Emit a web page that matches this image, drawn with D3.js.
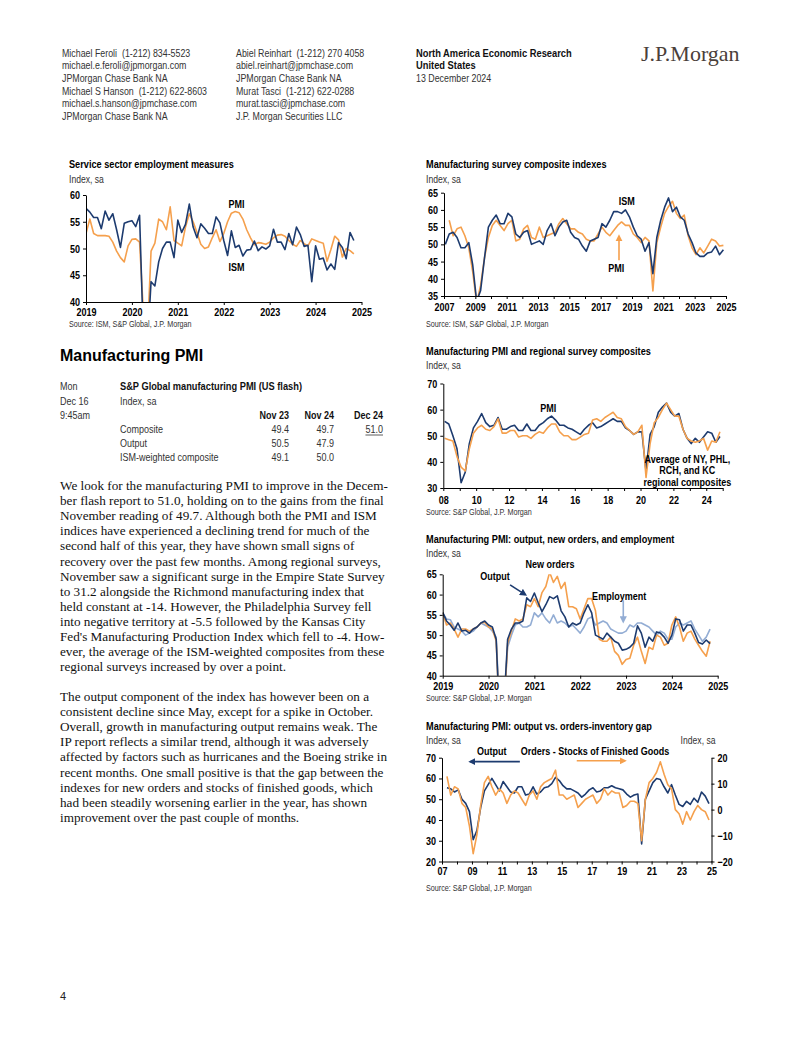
<!DOCTYPE html>
<html><head><meta charset="utf-8">
<script src="https://cdn.jsdelivr.net/npm/d3@7"></script>
<style>body{margin:0;background:#fff}svg{display:block}text{white-space:pre}</style>
</head><body><svg id="page" width="802" height="1037"></svg>
<script>
// ---------------- DATA ----------------
// Chart 1: Service sector employment measures (monthly, Jan 2019 - Nov 2024)
const svcStart = 2019;
const ismSvcEmp = [57.5,56.8,55.8,55.8,53.7,57.0,55.3,56.5,53.5,50.2,54.7,55.0,
 55.2,54.1,56.2,33.0,31.0,43.8,43.0,47.5,50.0,51.2,51.2,48.3,
 55.3,53.0,54.5,58.3,54.0,52.0,54.6,53.8,52.8,52.8,55.9,54.8,
 51.5,48.7,53.3,50.2,50.6,48.6,49.7,49.8,51.4,49.6,50.3,49.9,
 50.5,53.6,51.2,51.2,49.8,52.8,50.7,54.0,52.6,50.4,50.6,43.8,
 50.5,48.0,48.2,46.0,47.1,46.1,51.1,50.2,48.1,53.0,51.5];
const pmiSvcEmp = [52.8,55.5,52.8,52.4,52.4,52.4,52.3,51.2,49.5,48.3,47.5,50.5,
 51.7,51.8,51.2,38.0,33.0,49.5,51.0,55.5,55.0,53.5,57.8,51.5,
 51.0,50.5,54.0,56.5,55.0,53.0,50.8,50.0,50.3,52.0,53.5,51.3,
 52.8,55.0,56.6,56.9,56.7,55.5,53.5,52.0,50.7,51.1,51.0,50.8,
 51.2,52.0,52.5,52.6,52.3,51.5,50.8,50.4,51.5,50.9,50.5,51.8,
 51.5,51.2,51.0,47.6,49.8,52.3,51.6,48.4,50.0,49.6,49.0];

// Chart 2: Manufacturing survey composite indexes (quarterly readings)
const ismMfgStart = 2007 + 1/12;
const ismMfg = [50,53,53.5,52, 49,49,50.5,44, 33.5,36.5,46,55, 57,58.5,56,56,
 59,58,53,52, 53.5,54,50,50.5, 51,50,54,56, 52.5,55,56.5,57, 53.5,52,51.5,49.5,
 48,51,51.5,52, 56,55,57,59.5, 59.5,59,60,58, 55,52.5,51.5,48, 50.5,41.5,52,57,
 60.8,63.5,59.5,60.8, 58,57,53,50.5, 47.5,46.5,46.5,47.5, 47.8,49.5,47,48.4];
const pmiMfgStart = 2007 + 4/12;
const pmiMfg = [57,52.5,54.5, 55,52.5,49,42, 33,38,46,52, 55.5,57,55.5,54,
 56,57,51,51.5, 54.5,55.5,52,51.5, 55,52,52.5,53, 53.5,56,57.5,56, 54.5,54.5,53.5,53,
 51.5,51,51,53, 55,53.5,52.5,54, 55.5,56.5,55.5,55.5, 53,52,50.5,52, 51,36.5,50.5,55,
 59,61,62.5,59, 57.5,58.5,52.5,49, 47,49,47.5,49.5, 51.5,51,49.5,49.7];

// Chart 3: PMI and regional survey composites (quarterly readings)
const regStart = 2008 + 1/12;
const pmiComposite = [55.5,54.5,50,45, 32,36,47,53, 55.5,58.5,55,53.5, 54,57,52.5,52.5,
 53.5,54,52,52, 54.5,52,52,54, 55,56.5,57.5,56, 54,54,53,52.5, 51.5,50.5,52.5,54,
 55,53,53.5,54.5, 55.5,56.5,55.5,55.5, 53,52,50.5,51.5, 51.5,36.5,50.5,53.5,
 59,61,62.5,59, 57.5,58.5,52.5,49, 47,49,47.5,49.5, 51.5,51,47.5,49.7];
const regionalAvg = [49,48.5,48,42, 38,36.5,45,51, 53,54,52.5,52, 53.5,56.5,51,51,
 52,52,49.5,50, 50,49,50.5,51.5, 51,53,54.5,54.5, 51.5,50,50,48.5, 48.5,49.5,50.5,51,
 56,56.5,55.5,57, 58,59,57,56.5, 53.5,52,50.5,51.5, 54,34,47,55,
 57,60,62.5,60, 57.5,57.5,52.5,49, 48,47.5,48,49, 44.5,48,47.5,51.5];

// Chart 4: PMI output, new orders, employment (monthly, Jan 2019 - Nov 2024)
const compStart = 2019;
const pmiOutput = [55.6,53.5,52.5,51.2,53.0,51.0,51.2,50.5,51.5,52.0,53.0,53.5,
 52.5,52.0,49.0,27.0,32.0,49.0,51.5,53.0,53.0,53.5,59.2,58.3,
 60.4,58.0,55.8,57.5,59.5,59.0,59.7,56.0,54.5,52.0,53.0,52.5,
 53.0,55.5,57.5,55.5,50.0,49.5,49.0,50.5,49.5,48.5,48.0,46.3,
 46.5,47.0,48.0,52.3,50.5,47.0,49.5,48.5,50.8,50.5,49.5,48.0,
 50.0,54.0,53.8,51.0,52.5,52.5,50.5,48.2,47.8,48.8,47.9];
const pmiNewOrders = [55.5,52.5,53.0,51.5,49.5,51.5,51.5,51.0,51.5,52.0,53.0,53.2,
 52.0,51.5,48.5,27.0,30.0,48.0,51.0,54.0,53.5,54.0,57.5,57.0,
 59.0,57.0,60.5,62.0,65.5,63.0,64.5,61.5,63.0,57.0,57.0,56.5,
 54.0,56.5,59.0,59.0,56.0,49.0,48.5,48.5,49.5,46.0,45.0,42.8,
 44.0,44.3,47.5,49.5,46.0,43.0,47.0,46.5,50.0,49.5,47.5,48.0,
 52.5,54.5,52.0,48.5,50.5,51.0,49.0,47.5,46.0,44.8,48.5];
const pmiEmployment = [55.5,54.0,53.8,52.0,51.5,51.0,50.0,50.5,51.0,52.0,53.0,52.5,
 52.0,51.0,49.5,30.0,33.0,47.0,50.0,52.5,53.0,52.0,52.0,52.5,
 55.5,54.5,55.5,54.0,53.0,55.0,53.0,53.5,53.0,52.0,52.5,51.5,
 50.5,52.0,54.0,54.5,52.5,53.0,53.5,53.0,51.5,51.0,50.5,50.5,
 51.0,52.5,52.0,53.0,53.0,52.5,52.0,51.0,50.0,51.0,50.5,49.0,
 49.0,52.0,53.0,52.5,53.0,53.5,51.5,50.0,48.5,49.5,51.5];

// Chart 5: output vs orders-inventory gap (quarterly readings)
const gapStart = 2007 + 4/12;
const outputLong = [55.5,55,53.5, 54.5,50,48,44, 30.5,35,46,54, 57,60,57,54,
 58.5,56,53.5,53, 56,56,52,52.5, 56,52.5,53.5,55.5, 56,57.5,60.5,59, 56.5,55,55,54,
 53,51,52.5,54.5, 55.5,53.5,54,55.5, 55.5,56.5,55.5,55, 54.5,52.5,51,52, 52.5,28.5,50,54,
 58,60,59.5,56, 53,57,52,47.5, 46.5,49,47.5,50.5, 48.5,53.5,51.5,47.9];
const ordersLessStocks = [12.8,5.6,8.8, 8,2.4,0.8,-6.4, -17,-9.6,1.6,10.4, 12.8,8.8,5.6,8,
 6.4,2.4,5.6,7.2, 6.4,4,1.6,5.6, 7.2,4,8.8,10.4, 11.2,12,15.2,5.6, 5.6,4,4.8,5.6,
 0.8,2.4,4,4.8, 5.6,2.4,4,8, 5.6,7.2,6.4,6.4, 0.8,1.6,3.2,3.2, 2.4,-12,4,10.4,
 12,14.4,18.4,13.6, 9.6,8,0,-1.6, -5.6,-0.8,-4,-0.8, 1.6,0,-0.8,-4];

// Table
const tableCols = ["Nov 23","Nov 24","Dec 24"];
const tableRows = ["Composite","Output","ISM-weighted composite"];
const tableVals = [["49.4","49.7","51.0"],["50.5","47.9",""],["49.1","50.0",""]];

// ---------------- DRAWING ----------------
const NAVY = "#1d3b6f", ORANGE = "#f5a04d", LIGHT = "#93add4";
const SANS = "'Liberation Sans',Arial,sans-serif";
const SERIF = "'Liberation Serif','Times New Roman',serif";
const NARROW_SCALE = 0.82;   // Arial Narrow look, from a horizontally condensed Arial
const svg = d3.select('#page');
svg.append('rect').attr('width',802).attr('height',1037).attr('fill','#fff');
const defs = svg.append('defs');

function condense(sel, x) {
  sel.attr('transform', `translate(${x},0) scale(${NARROW_SCALE},1) translate(${-x},0)`);
}
function txt(x, y, s, o = {}) {
  const t = svg.append('text').attr('x', x).attr('y', y).text(s)
    .attr('font-family', o.family || SANS).attr('font-size', o.size || 10.8)
    .attr('font-weight', o.weight || 'normal').attr('fill', o.fill || '#333')
    .attr('text-anchor', o.anchor || 'start');
  if (!o.family) condense(t, x);
  return t;
}
function marker(id, color) {
  defs.append('marker').attr('id', id).attr('viewBox', '0 0 10 10')
    .attr('refX', 7).attr('refY', 5).attr('markerWidth', 4.5).attr('markerHeight', 4.5)
    .attr('orient', 'auto').append('path').attr('d', 'M0,0L10,5L0,10z').attr('fill', color);
}
marker('mNavy', NAVY); marker('mOrange', ORANGE); marker('mLight', LIGHT);

// header
const hdr1 = ["Michael Feroli  (1-212) 834-5523","michael.e.feroli@jpmorgan.com","JPMorgan Chase Bank NA",
  "Michael S Hanson  (1-212) 622-8603","michael.s.hanson@jpmchase.com","JPMorgan Chase Bank NA"];
const hdr2 = ["Abiel Reinhart  (1-212) 270 4058","abiel.reinhart@jpmchase.com","JPMorgan Chase Bank NA",
  "Murat Tasci  (1-212) 622-0288","murat.tasci@jpmchase.com","J.P. Morgan Securities LLC"];
const hdrY = [57, 69.5, 82, 95, 107.5, 120];
hdr1.forEach((s, i) => txt(62, hdrY[i], s, {size: 10.8}));
hdr2.forEach((s, i) => txt(236, hdrY[i], s, {size: 10.8}));
txt(416, 57, "North America Economic Research", {size: 11.4, weight: 'bold', fill: '#111'});
txt(416, 69.5, "United States", {size: 11.4, weight: 'bold', fill: '#111'});
txt(416, 82, "13 December 2024", {size: 10.8});
txt(641, 61, "J.P.Morgan", {family: SERIF, size: 22, fill: '#4a403a'});

// heading + table
txt(60, 361, "Manufacturing PMI", {family: SANS, size: 16, weight: 'bold', fill: '#000'});
txt(60, 390.5, "Mon", {size: 11});
txt(60, 405, "Dec 16", {size: 11});
txt(60, 419, "9:45am", {size: 11});
txt(120, 390.5, "S&P Global manufacturing PMI (US flash)", {size: 11.3, weight: 'bold', fill: '#111'});
txt(120, 405, "Index, sa", {size: 11});
const colX = [289, 334, 383];
tableCols.forEach((c, j) => txt(colX[j], 419, c, {size: 11, weight: 'bold', fill: '#111', anchor: 'end'}));
tableRows.forEach((r, i) => {
  const yy = 433 + i * 13.8;
  txt(120, yy, r, {size: 11});
  tableVals[i].forEach((v, j) => {
    if (!v) return;
    const t = txt(colX[j], yy, v, {size: 11, anchor: 'end'});
    if (i === 0 && j === 2) {
      const w = t.node().getComputedTextLength() * NARROW_SCALE;
      svg.append('line').attr('x1', colX[j] - w).attr('x2', colX[j]).attr('y1', yy + 2).attr('y2', yy + 2)
        .attr('stroke', '#333').attr('stroke-width', 0.8);
    }
  });
});

// body text
const para1 = ["We look for the manufacturing PMI to improve in the Decem-",
"ber flash report to 51.0, holding on to the gains from the final",
"November reading of 49.7. Although both the PMI and ISM",
"indices have experienced a declining trend for much of the",
"second half of this year, they have shown small signs of",
"recovery over the past few months. Among regional surveys,",
"November saw a significant surge in the Empire State Survey",
"to 31.2 alongside the Richmond manufacturing index that",
"held constant at -14. However, the Philadelphia Survey fell",
"into negative territory at -5.5 followed by the Kansas City",
"Fed's Manufacturing Production Index which fell to -4. How-",
"ever, the average of the ISM-weighted composites from these",
"regional surveys increased by over a point."];
const para2 = ["The output component of the index has however been on a",
"consistent decline since May, except for a spike in October.",
"Overall, growth in manufacturing output remains weak. The",
"IP report reflects a similar trend, although it was adversely",
"affected by factors such as hurricanes and the Boeing strike in",
"recent months. One small positive is that the gap between the",
"indexes for new orders and stocks of finished goods, which",
"had been steadily worsening earlier in the year, has shown",
"improvement over the past couple of months."];
para1.forEach((s, i) => txt(60, 490 + i * 15.1, s, {family: SERIF, size: 13.2, fill: '#111'}));
para2.forEach((s, i) => txt(60, 701 + i * 15.1, s, {family: SERIF, size: 13.2, fill: '#111'}));
txt(60, 1000, "4", {family: SANS, size: 11, fill: '#222'});

// chart builder
let clipN = 0;
function chart(c) {
  const x = d3.scaleLinear().domain(c.xDomain).range(c.xRange);
  const y = d3.scaleLinear().domain(c.yDomain).range(c.yRange);
  const y2 = c.y2Domain ? d3.scaleLinear().domain(c.y2Domain).range(c.yRange) : null;
  txt(c.left, c.titleY, c.title, {size: 11.2, weight: 'bold', fill: '#000'});
  txt(c.left, c.unitY, "Index, sa", {size: 10.5, fill: '#333'});
  if (y2) txt(c.xRange[1] + 4, c.unitY, "Index, sa", {size: 10.5, fill: '#333', anchor: 'end'});
  txt(c.left, c.sourceY, c.source, {size: 8.8, fill: '#333'});

  const id = 'clip' + (clipN++);
  defs.append('clipPath').attr('id', id).append('rect')
    .attr('x', c.xRange[0]).attr('y', c.yRange[1])
    .attr('width', c.xRange[1] - c.xRange[0]).attr('height', c.yRange[0] - c.yRange[1]);

  const style = (g) => {
    g.attr('font-family', null).attr('font-size', null);
    g.selectAll('path,line').attr('stroke', '#000').attr('stroke-width', 1);
    g.selectAll('text').attr('font-family', SANS).attr('font-size', 11)
      .attr('font-weight', 'bold').attr('fill', '#000')
      .each(function () { condense(d3.select(this), +(this.getAttribute('x') || 0)); });
  };
  const plot = svg.append('g').attr('clip-path', `url(#${id})`);
  c.series.forEach(s => {
    const sc = s.right ? y2 : y;
    const pts = s.values.map((v, i) => [s.start + i * s.step, v]);
    plot.append('path').datum(pts)
      .attr('d', d3.line().x(d => x(d[0])).y(d => sc(d[1])))
      .attr('fill', 'none').attr('stroke', s.color).attr('stroke-width', s.width || 1.6)
      .attr('stroke-linejoin', 'round');
  });
  svg.append('g').attr('transform', `translate(${c.xRange[0]},0)`)
    .call(d3.axisLeft(y).tickValues(c.yTicks).tickSize(3).tickSizeOuter(0).tickPadding(3)).call(style);
  if (y2) svg.append('g').attr('transform', `translate(${c.xRange[1]},0)`)
    .call(d3.axisRight(y2).tickValues(c.y2Ticks).tickSize(3).tickSizeOuter(0).tickPadding(3)).call(style);
  svg.append('g').attr('transform', `translate(0,${c.yRange[0]})`)
    .call(d3.axisBottom(x).tickValues(c.xTicks).tickFormat(c.xFormat).tickSize(3).tickSizeOuter(0).tickPadding(c.xPad || 5))
    .call(style);

  (c.labels || []).forEach(l => {
    const lines = l.text.split('\n');
    lines.forEach((s, k) => txt(x(l.x), y(l.y) + 4 + k * (l.lh || 11.7), s,
      {size: 11, weight: 'bold', fill: '#000', anchor: l.anchor || 'middle'}));
  });
  (c.arrows || []).forEach(a => {
    svg.append('line').attr('x1', x(a.x1)).attr('y1', y(a.y1)).attr('x2', x(a.x2)).attr('y2', y(a.y2))
      .attr('stroke', a.color).attr('stroke-width', 1.6).attr('marker-end', `url(#${a.marker})`);
  });
}

const yearsFmt = d => String(d);
const oddShort = d => (d % 2 === 1) ? String(d).slice(2) : '';
const evenShort = d => (d % 2 === 0 && d < 2025) ? String(d).slice(2) : '';
const oddFull = d => (d % 2 === 1) ? String(d) : '';

chart({
  left: 69, titleY: 168.5, unitY: 183, sourceY: 327.5,
  title: "Service sector employment measures", source: "Source: ISM, S&P Global, J.P. Morgan",
  xDomain: [2019, 2025], xRange: [86, 361.5], yDomain: [40, 60], yRange: [302, 195],
  yTicks: [40, 45, 50, 55, 60], xTicks: d3.range(2019, 2026), xFormat: yearsFmt, xPad: 3,
  series: [
    {values: pmiSvcEmp, start: svcStart, step: 1/12, color: ORANGE},
    {values: ismSvcEmp, start: svcStart, step: 1/12, color: NAVY}],
  labels: [{x: 2022.28, y: 58.4, text: "PMI"}, {x: 2022.28, y: 46.5, text: "ISM"}]
});

chart({
  left: 426, titleY: 168, unitY: 183, sourceY: 327,
  title: "Manufacturing survey composite indexes", source: "Source: ISM, S&P Global, J.P. Morgan",
  xDomain: [2007, 2025], xRange: [444, 726], yDomain: [35, 65], yRange: [296, 192.7],
  yTicks: [35, 40, 45, 50, 55, 60, 65], xTicks: d3.range(2007, 2026), xFormat: oddFull, xPad: 4,
  series: [
    {values: pmiMfg, start: pmiMfgStart, step: 0.25, color: ORANGE},
    {values: ismMfg, start: ismMfgStart, step: 0.25, color: NAVY}],
  labels: [{x: 2018.66, y: 62.6, text: "ISM"}, {x: 2018.0, y: 43.0, text: "PMI"}],
  arrows: [{x1: 2018.17, y1: 45.4, x2: 2018.17, y2: 52.3, color: ORANGE, marker: 'mOrange'}]
});

chart({
  left: 426, titleY: 355.5, unitY: 369, sourceY: 515,
  title: "Manufacturing PMI and regional survey composites", source: "Source: S&P Global, J.P. Morgan",
  xDomain: [2008, 2025], xRange: [443.3, 722.7], yDomain: [30, 70], yRange: [488, 383.5],
  yTicks: [30, 40, 50, 60, 70], xTicks: d3.range(2008, 2026), xFormat: evenShort, xPad: 5,
  series: [
    {values: pmiComposite, start: regStart, step: 0.25, color: NAVY},
    {values: regionalAvg, start: regStart, step: 0.25, color: ORANGE}],
  labels: [{x: 2014.39, y: 60.5, text: "PMI"},
    {x: 2022.85, y: 41.2, text: "Average of NY, PHL,\nRCH, and KC\nregional composites"}]
});

chart({
  left: 426, titleY: 543, unitY: 557.5, sourceY: 701,
  title: "Manufacturing PMI: output, new orders, and employment", source: "Source: S&P Global, J.P. Morgan",
  xDomain: [2019, 2025], xRange: [442.7, 717.7], yDomain: [40, 65], yRange: [675.7, 574.3],
  yTicks: [40, 45, 50, 55, 60, 65], xTicks: d3.range(2019, 2026), xFormat: yearsFmt, xPad: 4,
  series: [
    {values: pmiEmployment, start: compStart, step: 1/12, color: LIGHT},
    {values: pmiNewOrders, start: compStart, step: 1/12, color: ORANGE},
    {values: pmiOutput, start: compStart, step: 1/12, color: NAVY}],
  labels: [{x: 2021.34, y: 67.5, text: "New orders"}, {x: 2020.14, y: 64.6, text: "Output"},
    {x: 2022.85, y: 59.7, text: "Employment"}],
  arrows: [{x1: 2020.47, y1: 62.4, x2: 2020.8, y2: 60.0, color: NAVY, marker: 'mNavy'},
    {x1: 2022.94, y1: 58.6, x2: 2022.94, y2: 53.4, color: LIGHT, marker: 'mLight'}]
});

chart({
  left: 426, titleY: 730.5, unitY: 744, sourceY: 891.5,
  title: "Manufacturing PMI: output vs. orders-inventory gap", source: "Source: S&P Global, J.P. Morgan",
  xDomain: [2007, 2025], xRange: [442, 711.5], yDomain: [20, 70], yRange: [861.5, 757.7],
  y2Domain: [-20, 20], y2Ticks: [-20, -10, 0, 10, 20],
  yTicks: [20, 30, 40, 50, 60, 70], xTicks: d3.range(2007, 2026), xFormat: oddShort, xPad: 3,
  series: [
    {values: outputLong, start: gapStart, step: 0.25, color: NAVY},
    {values: ordersLessStocks, start: gapStart, step: 0.25, color: ORANGE, right: true}],
  labels: [{x: 2010.32, y: 73.2, text: "Output"}, {x: 2017.22, y: 73.2, text: "Orders - Stocks of Finished Goods"}],
  arrows: [{x1: 2012.2, y1: 68.1, x2: 2008.9, y2: 68.1, color: NAVY, marker: 'mNavy'},
    {x1: 2016.0, y1: 68.5, x2: 2019.2, y2: 68.5, color: ORANGE, marker: 'mOrange'}]
});
</script></body></html>
